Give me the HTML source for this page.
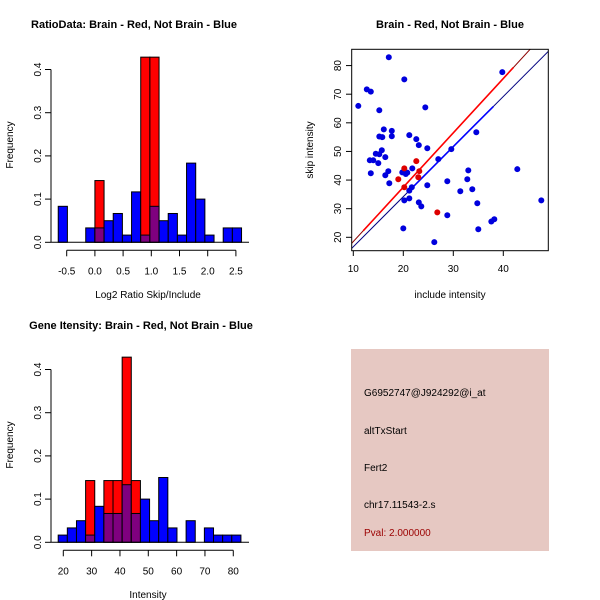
<!DOCTYPE html>
<html><head><meta charset="utf-8"><style>
body{margin:0;background:#fff}
svg{display:block;font-family:"Liberation Sans",sans-serif}
</style></head><body>
<svg id="c" width="600" height="600" viewBox="0 0 600 600">
<rect width="600" height="600" fill="#fff"/>
<text x="134" y="28" font-size="11" font-weight="bold" text-anchor="middle">RatioData: Brain - Red, Not Brain - Blue</text>
<text x="450" y="28" font-size="11" font-weight="bold" text-anchor="middle">Brain - Red, Not Brain - Blue</text>
<text x="141" y="329" font-size="11" font-weight="bold" text-anchor="middle">Gene Itensity: Brain - Red, Not Brain - Blue</text>
<text x="148" y="298" font-size="10" text-anchor="middle">Log2 Ratio Skip/Include</text>
<text x="148" y="598" font-size="10" text-anchor="middle">Intensity</text>
<text transform="translate(13,145) rotate(-90)" font-size="10" text-anchor="middle">Frequency</text>
<text transform="translate(13,445) rotate(-90)" font-size="10" text-anchor="middle">Frequency</text>
<text x="450" y="298" font-size="10" text-anchor="middle">include intensity</text>
<text transform="translate(313,150) rotate(-90)" font-size="10" text-anchor="middle">skip intensity</text>
<g>
<rect x="351" y="349" width="198" height="202" fill="#e6c8c2"/>
<text x="364" y="396" font-size="10">G6952747@J924292@i_at</text>
<text x="364" y="434" font-size="10">altTxStart</text>
<text x="364" y="471" font-size="10">Fert2</text>
<text x="364" y="508" font-size="10">chr17.11543-2.s</text>
<text x="364" y="536" font-size="10" fill="#9b0000">Pval: 2.000000</text>
</g>
</svg>
<script>
// Ratio histogram data
const ratioStart = -0.65, ratioWidth = 0.1625;
const ratioBlue = [0.0833,0,0,0.0333,0.0333,0.05,0.0667,0.0167,0.1167,0.0167,0.0833,0.05,0.0667,0.0167,0.1833,0.1,0.0167,0,0.0333,0.0333];
const ratioRed  = [0,0,0,0,0.1429,0,0,0,0,0.4286,0.4286,0,0,0,0,0,0,0,0,0];
const ratioXTicks = [-0.5,0,0.5,1,1.5,2,2.5];
const ratioXLabels = ["-0.5","0.0","0.5","1.0","1.5","2.0","2.5"];
const freqTicks = [0,0.1,0.2,0.3,0.4];
const freqLabels = ["0.0","0.1","0.2","0.3","0.4"];
// Intensity histogram data
const intStart = 18.2, intWidth = 3.225;
const intBlue = [0.0167,0.0333,0.05,0.0167,0.0833,0.0667,0.0667,0.1333,0.0667,0.1,0.05,0.15,0.0333,0,0.05,0,0.0333,0.0167,0.0167,0.0167];
const intRed  = [0,0,0,0.1429,0,0.1429,0.1429,0.4286,0.1429,0,0,0,0,0,0,0,0,0,0,0];
const intXTicks = [20,30,40,50,60,70,80];
// Scatter data
const blueX = [11.0,12.7,13.5,17.1,20.2,15.2,24.4,39.8,16.1,17.7,17.7,15.2,15.8,21.2,22.6,23.1,24.8,34.6,29.6,15.7,14.5,15.2,16.4,13.3,14.0,15.0,27.0,13.5,17.0,16.4,19.8,20.8,20.5,21.8,17.2,21.7,21.2,24.8,28.8,32.8,33.0,33.8,31.4,42.8,20.2,21.2,23.1,23.6,34.8,47.6,28.8,37.6,38.2,20.0,35.0,26.2];
const blueY = [65.9,71.7,70.9,82.9,75.2,64.4,65.4,77.7,57.7,57.2,55.3,55.2,55.0,55.7,54.3,52.2,51.1,56.7,50.8,50.4,49.2,49.0,48.0,46.9,46.9,45.9,47.3,42.4,43.1,41.7,42.7,42.6,42.1,44.1,38.9,37.5,36.3,38.2,39.6,40.3,43.4,36.8,36.1,43.8,32.9,33.6,32.2,30.8,31.9,32.9,27.7,25.5,26.3,23.1,22.8,18.3];
const redX = [20.2,22.6,23.2,19.0,23.0,20.2,26.8];
const redY = [44.1,46.6,43.1,40.3,41.0,37.5,28.7];
const blueFit = [1.75,-0.8];
const redFit = [1.90,-0.5];
const scXTicks = [10,20,30,40];
const scYTicks = [20,30,40,50,60,70,80];

const NS="http://www.w3.org/2000/svg", svg=document.getElementById('c');
function mk(tag,attrs,parent){const e=document.createElementNS(NS,tag);for(const k in attrs)e.setAttribute(k,attrs[k]);(parent||svg).appendChild(e);return e;}

function hist(name,y0,x0px,x0val,pxPerUnit,start,width,blue,red,xt,xl){
  const g=mk('g',{});
  
  
  const X=v=>x0px+(v-x0val)*pxPerUnit, Y=v=>y0-v*432;
  for(let i=0;i<blue.length;i++){
    const l=X(start+i*width), r=X(start+(i+1)*width);
    const b=blue[i], rd=red[i];
    const top=Math.max(b,rd); if(top<=0) continue;
    const bar=mk('rect',{x:l,y:Y(top),width:r-l,height:Y(0)-Y(top),fill:rd>b?'#ff0000':'#0000ff',stroke:'#000','stroke-width':1},g);
    
    
    const m=Math.min(b,rd);
    if(m>0){const ov=mk('rect',{x:l,y:Y(m),width:r-l,height:Y(0)-Y(m),fill:'#7f007f',stroke:'#000','stroke-width':1},g);
      
      }
  }
  mk('line',{x1:51,x2:249,y1:y0,y2:y0,stroke:'#000'},g);
  mk('line',{x1:51,x2:51,y1:Y(0),y2:Y(0.4),stroke:'#000'},g);
  freqTicks.forEach((t,i)=>{mk('line',{x1:45,x2:51,y1:Y(t),y2:Y(t),stroke:'#000'},g);
    const tx=mk('text',{transform:`translate(41,${Y(t)}) rotate(-90)`,'font-size':10,'text-anchor':'middle'},g);tx.textContent=freqLabels[i];
    
    });
  const ay=y0+8;
  mk('line',{x1:X(xt[0]),x2:X(xt[xt.length-1]),y1:ay,y2:ay,stroke:'#000'},g);
  xt.forEach((t,i)=>{mk('line',{x1:X(t),x2:X(t),y1:ay,y2:ay+6,stroke:'#000'},g);
    const tx=mk('text',{x:X(t),y:ay+24,'font-size':10,'text-anchor':'middle'},g);tx.textContent=xl[i];
    
    });
}
hist('ratio-histogram',242.3,66.7,-0.5,56.4,ratioStart,ratioWidth,ratioBlue,ratioRed,ratioXTicks,ratioXLabels);
hist('intensity-histogram',542.3,63.3,20,2.833,intStart,intWidth,intBlue,intRed,intXTicks,intXTicks.map(String));

// scatter
const sg=mk('g',{});


const SX=v=>353.3+(v-10)*5, SY=v=>237.3-(v-20)*2.862;
const clip=mk('clipPath',{id:'sc'});mk('rect',{x:351.7,y:49.3,width:196.6,height:201.4},clip);
function fit(f,thin,thick,lo,hi){
  mk('line',{x1:SX(8),y1:SY(f[0]*8+f[1]),x2:SX(50),y2:SY(f[0]*50+f[1]),stroke:thin,'stroke-width':1,'clip-path':'url(#sc)'},sg);
  mk('line',{x1:SX(lo),y1:SY(f[0]*lo+f[1]),x2:SX(hi),y2:SY(f[0]*hi+f[1]),stroke:thick,'stroke-width':1.6,'clip-path':'url(#sc)'},sg);
}
fit(blueFit,'#000080','#0000ff',22,38);
fit(redFit,'#8b0000','#ff0000',12,42);
blueX.forEach((x,i)=>{const c=mk('circle',{cx:SX(x),cy:SY(blueY[i]),r:3,fill:'#0000dd'},sg);
  
  });
redX.forEach((x,i)=>{const c=mk('circle',{cx:SX(x),cy:SY(redY[i]),r:3,fill:'#dd0000'},sg);
  
  });
mk('rect',{x:351.7,y:49.3,width:196.6,height:201.4,fill:'none',stroke:'#000'},sg);
scXTicks.forEach(t=>{mk('line',{x1:SX(t),x2:SX(t),y1:250.7,y2:256,stroke:'#000'},sg);
  const tx=mk('text',{x:SX(t),y:272,'font-size':10,'text-anchor':'middle'},sg);tx.textContent=t;
  
  });
scYTicks.forEach(t=>{mk('line',{x1:346,x2:351.7,y1:SY(t),y2:SY(t),stroke:'#000'},sg);
  const tx=mk('text',{transform:`translate(341,${SY(t)}) rotate(-90)`,'font-size':10,'text-anchor':'middle'},sg);tx.textContent=t;
  
  });
</script>
</body></html>
